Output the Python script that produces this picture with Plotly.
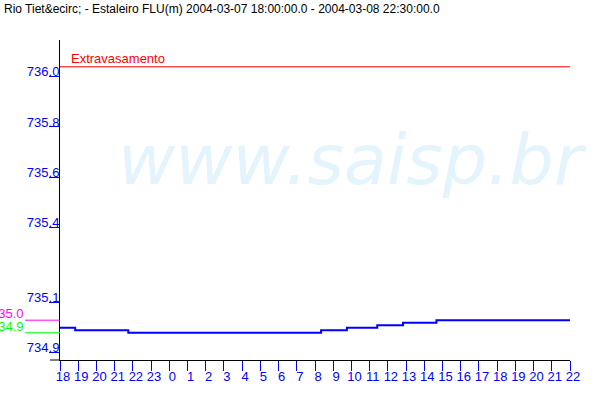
import math
import plotly.graph_objects as go

# ---- data ----
times = ["2004-03-07 18:00", "2004-03-07 18:50", "2004-03-07 21:45",
         "2004-03-08 08:20", "2004-03-08 09:45", "2004-03-08 11:25",
         "2004-03-08 12:50", "2004-03-08 14:40", "2004-03-08 22:00"]
levels = [735.00, 734.99, 734.98, 734.99, 735.00, 735.01, 735.02, 735.03, 735.03]

y_ticks = [734.9, 735.1, 735.4, 735.6, 735.8, 736.0]
y_range = [734.8713, 736.1467]
x_range = ["2004-03-07 18:00", "2004-03-08 22:00"]

extravasamento = 736.04
thr_magenta = 735.03
thr_green = 734.98

title = "Rio Tiet&amp;ecirc; - Estaleiro FLU(m) 2004-03-07 18:00:00.0 - 2004-03-08 22:30:00.0"

BLUE = "#0000FF"
FONT = "Liberation Sans"

fig = go.Figure()
fig.add_trace(go.Scatter(x=times, y=levels, mode="lines",
                         line=dict(color=BLUE, width=2, shape="hv"),
                         hoverinfo="skip", showlegend=False))

fig.update_layout(
    width=600, height=400,
    margin=dict(l=60, r=30, t=40, b=40, autoexpand=False),
    paper_bgcolor="white", plot_bgcolor="white",
    showlegend=False,
    title=dict(text=title, x=4/600, xanchor="left", xref="container",
               y=1-5/400, yanchor="top", yref="container",
               font=dict(family=FONT, size=12, color="black")),
    xaxis=dict(type="date", range=x_range, dtick=3600000, tickformat="%-H",
               showgrid=False, zeroline=False, showline=True, linecolor="black",
               linewidth=1, ticks="outside", ticklen=10, tickcolor=BLUE,
               tickfont=dict(family=FONT, size=13, color=BLUE), automargin=False,
               ticklabelshift=3, ticklabelstandoff=-6),
    yaxis=dict(range=y_range, tickvals=y_ticks,
               ticktext=[f"{v:.1f}" for v in y_ticks],
               showgrid=False, zeroline=False, showline=True, linecolor="black",
               linewidth=1, ticks="outside", ticklen=10, tickcolor=BLUE,
               tickfont=dict(family=FONT, size=13, color=BLUE), automargin=False,
               ticklabelshift=-5, ticklabelstandoff=-13),
)

# watermark
fig.add_annotation(text="<i>www.saisp.br</i>", xref="paper", yref="paper",
                   x=(352 - 60) / 510, y=(360 - 160) / 320, showarrow=False,
                   font=dict(family="DejaVu Sans", size=70, color="#E3F4FC"),
                   xanchor="center", yanchor="middle")

# Extravasamento line
fig.add_shape(type="line", xref="paper", yref="y", x0=0, x1=1,
              y0=extravasamento, y1=extravasamento,
              line=dict(color="#FF0000", width=1))
fig.add_annotation(text="Extravasamento", xref="paper", yref="y",
                   x=9/510, y=extravasamento, xanchor="left", yanchor="bottom",
                   showarrow=False, yshift=-1,
                   font=dict(family=FONT, size=13, color="#FF0000"))

# threshold markers on the left
for val, col in [(thr_magenta, "#FF00FF"), (thr_green, "#00FF00")]:
    fig.add_shape(type="line", xref="paper", yref="y", x0=-35/510, x1=0,
                  y0=val, y1=val, line=dict(color=col, width=1))
    fig.add_annotation(text=f"{math.floor(val*10)/10:.1f}", xref="paper", yref="y",
                       x=-35/510, y=val, xanchor="right", yanchor="bottom",
                       showarrow=False, yshift=-3, xshift=1,
                       font=dict(family=FONT, size=13, color=col))

# x axis line extension to the left
fig.add_shape(type="line", xref="paper", yref="paper", x0=-10/510, x1=0,
              y0=0, y1=0, line=dict(color="black", width=1))

fig.write_html("out.html",
               config={"displayModeBar": False},
               post_script="document.body.style.margin='0';")
